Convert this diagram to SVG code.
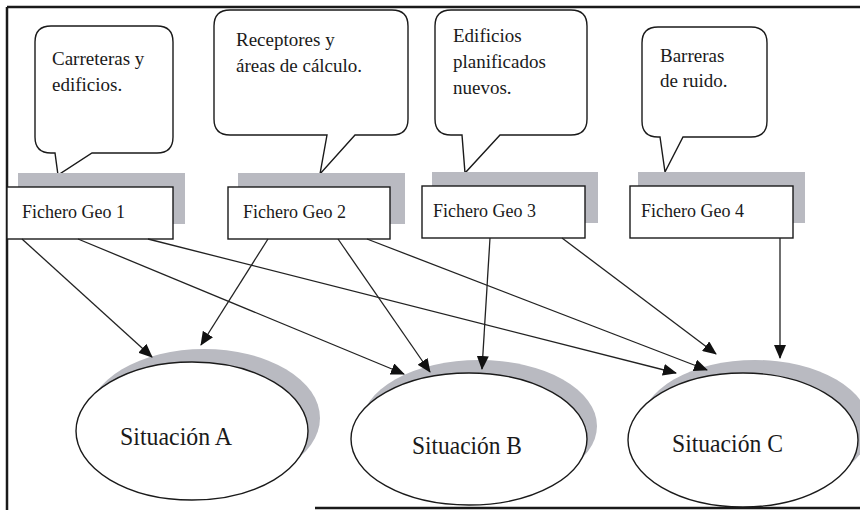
<svg xmlns="http://www.w3.org/2000/svg" width="860" height="510" viewBox="0 0 860 510">
<style>
.bg{fill:#fff}
.frame{stroke:#1a1a1a;stroke-width:2.5;fill:none}
.callout{fill:#fff;stroke:#1a1a1a;stroke-width:1.4}
.ctext{font-family:"Liberation Serif","Times New Roman",serif;font-size:19px;fill:#1a1a1a}
.shadow{fill:#b9bac1}
.box{fill:#fff;stroke:#1a1a1a;stroke-width:1.4}
.btext{font-family:"Liberation Serif","Times New Roman",serif;font-size:18px;fill:#1a1a1a}
.ell{fill:#fff;stroke:#1a1a1a;stroke-width:1.4}
.etext{font-family:"Liberation Serif","Times New Roman",serif;font-size:25px;fill:#1a1a1a}
.conn{stroke:#222;stroke-width:1.3;fill:none;marker-end:url(#ah)}
</style>
<defs>
<marker id="ah" viewBox="0 0 14 12" refX="13" refY="6" markerWidth="14" markerHeight="12" orient="auto" markerUnits="userSpaceOnUse">
<path d="M0,0 L14,6 L0,12 Z" fill="#111"/>
</marker>
</defs>
<rect class="bg" x="0" y="0" width="860" height="510"/>
<g id="frame">
<line class="frame" x1="7" y1="7" x2="860" y2="7"/>
<line class="frame" x1="7" y1="7" x2="7" y2="510"/>
<line class="frame" x1="315" y1="508" x2="860" y2="508"/>
</g>

<g id="callout1">
<path class="callout" d="M51,26 H157 Q173,26 173,42 V137 Q173,153 157,153 H92 L58,175 L55,153 H51 Q35,153 35,137 V42 Q35,26 51,26 Z"/>
<text class="ctext" x="52" y="65">Carreteras y</text>
<text class="ctext" x="52" y="91">edificios.</text>
</g>
<g id="callout2">
<path class="callout" d="M230,10 H392 Q408,10 408,26 V119 Q408,135 392,135 H355 L320,174 L327,135 H230 Q214,135 214,119 V26 Q214,10 230,10 Z"/>
<text class="ctext" x="236" y="46">Receptores y</text>
<text class="ctext" x="236" y="72">áreas de cálculo.</text>
</g>
<g id="callout3">
<path class="callout" d="M451,10 H571 Q587,10 587,26 V119 Q587,135 571,135 H500 L465,173 L462,135 H451 Q435,135 435,119 V26 Q435,10 451,10 Z"/>
<text class="ctext" x="453" y="42">Edificios</text>
<text class="ctext" x="453" y="68">planificados</text>
<text class="ctext" x="453" y="94">nuevos.</text>
</g>
<g id="callout4">
<path class="callout" d="M658,27 H751 Q767,27 767,43 V121 Q767,137 751,137 H683 L665,172 L660,137 H658 Q642,137 642,121 V43 Q642,27 658,27 Z"/>
<text class="ctext" x="660" y="62">Barreras</text>
<text class="ctext" x="660" y="87">de ruido.</text>
</g>

<g id="geo1">
<rect class="shadow" x="18" y="173" width="167" height="51"/>
<rect class="box" x="7" y="187" width="166" height="52"/>
<text class="btext" x="22" y="218">Fichero Geo 1</text>
</g>
<g id="geo2">
<rect class="shadow" x="238" y="173" width="167" height="51"/>
<rect class="box" x="228" y="187" width="162" height="52"/>
<text class="btext" x="243" y="218">Fichero Geo 2</text>
</g>
<g id="geo3">
<rect class="shadow" x="432" y="172" width="166" height="51"/>
<rect class="box" x="422" y="186" width="163" height="52"/>
<text class="btext" x="433" y="217">Fichero Geo 3</text>
</g>
<g id="geo4">
<rect class="shadow" x="638" y="172" width="167" height="51"/>
<rect class="box" x="630" y="186" width="163" height="52"/>
<text class="btext" x="641" y="217">Fichero Geo 4</text>
</g>

<g id="sitA">
<ellipse class="shadow" cx="204" cy="418" rx="116" ry="69"/>
<ellipse class="ell" cx="192" cy="431" rx="116" ry="69"/>
<text class="etext" x="120" y="445" textLength="112" lengthAdjust="spacingAndGlyphs">Situación A</text>
</g>
<g id="sitB">
<ellipse class="shadow" cx="479" cy="426" rx="118" ry="66"/>
<ellipse class="ell" cx="469" cy="439" rx="118" ry="66"/>
<text class="etext" x="412" y="454" textLength="110" lengthAdjust="spacingAndGlyphs">Situación B</text>
</g>
<g id="sitC">
<ellipse class="shadow" cx="755" cy="427" rx="115" ry="67"/>
<ellipse class="ell" cx="743" cy="440" rx="115" ry="67"/>
<text class="etext" x="672" y="452" textLength="111" lengthAdjust="spacingAndGlyphs">Situación C</text>
</g>

<g id="connectors">
<line class="conn" x1="22" y1="239" x2="152" y2="357"/>
<line class="conn" x1="78" y1="239" x2="404" y2="374"/>
<line class="conn" x1="148" y1="239" x2="676" y2="373"/>
<line class="conn" x1="268" y1="239" x2="201" y2="345"/>
<line class="conn" x1="338" y1="239" x2="430" y2="372"/>
<line class="conn" x1="367" y1="239" x2="707" y2="370"/>
<line class="conn" x1="490" y1="238" x2="482" y2="369"/>
<line class="conn" x1="562" y1="238" x2="716" y2="354"/>
<line class="conn" x1="780" y1="238" x2="780" y2="358"/>
</g>
</svg>
